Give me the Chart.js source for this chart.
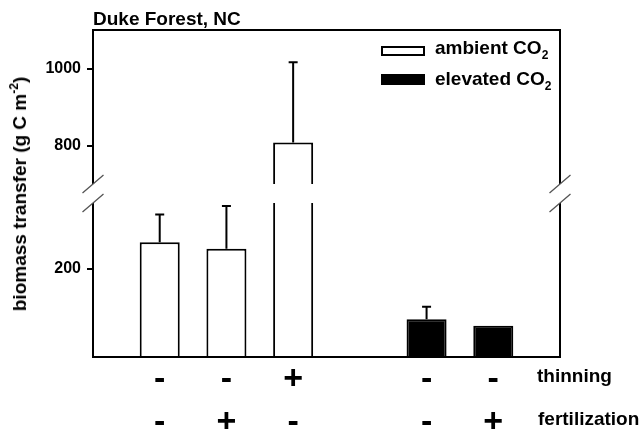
<!DOCTYPE html>
<html>
<head>
<meta charset="utf-8">
<script src="https://cdn.jsdelivr.net/npm/chart.js@4.4.0/dist/chart.umd.min.js"></script>
<style>
  body { margin: 0; background: #fff; }
  #wrap { position: relative; width: 640px; height: 435px; overflow: hidden;
          font-family: "Liberation Sans", Arial, sans-serif; font-weight: bold; color: #000; }
  canvas { position: absolute; left: 0; top: 0; }
  .t { position: absolute; white-space: nowrap; font-size: 19px; line-height: 19px; }
  .sub { font-size: 12px; position: relative; top: 5px; }
  .sup { font-size: 12px; position: relative; top: -8px; }
  #ytitle { left: 21px; top: 194px; transform: translate(-50%, -50%) rotate(-90deg); }
  .box { position: absolute; box-sizing: border-box; }
</style>
</head>
<body>
<div id="wrap">
  <canvas id="upper" width="640" height="435"></canvas>
  <canvas id="lower" width="640" height="435"></canvas>
  <div class="t" style="left:93px;top:9px">Duke Forest, NC</div>
  <div class="t" id="ytitle">biomass transfer (g C m<span class="sup">-2</span>)</div>
  <div class="box" style="left:381px;top:46px;width:44px;height:10px;border:2px solid #000;background:#fff"></div>
  <div class="t" style="left:435px;top:38px">ambient CO<span class="sub">2</span></div>
  <div class="box" style="left:381px;top:74px;width:44px;height:11px;background:#000"></div>
  <div class="t" style="left:435px;top:69px">elevated CO<span class="sub">2</span></div>
  <div class="t" style="left:537px;top:366px">thinning</div>
  <div class="t" style="left:538px;top:409px">fertilization</div>
</div>
<script>
// ---- data ----
const thinning      = ['', '-', '-', '+', '', '-', '-', ''];
const fertilization = ['', '-', '+', '-', '', '-', '+', ''];
const ambient       = [null, 261, 246, 808, null, null, null, null];
const ambientErr    = [null, 63, 97, 208, null, null, null, null];
const elevated      = [null, null, null, null, null, 86, 71, null];
const elevatedErr   = [null, null, null, null, null, 28, 0, null];
const lowerRange = [0, 350];
const upperRange = [700, 1100];
const lowerTicks = [200];
const upperTicks = [800, 1000];

const labels = thinning.map((t, i) => t ? [t, fertilization[i]] : '');
const FONT = "'Liberation Sans', Arial, sans-serif";

const errorBars = {
  id: 'errorBars',
  afterDatasetsDraw(chart) {
    const { ctx, chartArea: a } = chart;
    const y = chart.scales.y;
    ctx.save();
    ctx.beginPath();
    ctx.rect(a.left, a.top, a.right - a.left, a.bottom - a.top);
    ctx.clip();
    ctx.strokeStyle = '#000';
    ctx.lineWidth = 2;
    chart.data.datasets.forEach((ds, di) => {
      const meta = chart.getDatasetMeta(di);
      ds.errors.forEach((e, i) => {
        if (!e || ds.data[i] == null) return;
        const bar = meta.data[i];
        const base = y.getPixelForValue(ds.data[i]);
        const top = y.getPixelForValue(ds.data[i] + e);
        ctx.beginPath();
        ctx.moveTo(bar.x, base); ctx.lineTo(bar.x, top);
        ctx.moveTo(bar.x - 4.5, top); ctx.lineTo(bar.x + 4.5, top);
        ctx.stroke();
      });
    });
    ctx.restore();
  }
};

const frame = {
  id: 'frame',
  afterDraw(chart, args, opts) {
    const { ctx, chartArea: a } = chart;
    ctx.save();
    ctx.strokeStyle = '#000';
    ctx.lineWidth = 2;
    ctx.beginPath();
    ctx.moveTo(a.left, a.top); ctx.lineTo(a.left, a.bottom);
    ctx.moveTo(a.right, a.top); ctx.lineTo(a.right, a.bottom);
    if (opts.side === 'top') { ctx.moveTo(a.left - 1, a.top); ctx.lineTo(a.right + 1, a.top); }
    else { ctx.moveTo(a.left - 1, a.bottom); ctx.lineTo(a.right + 1, a.bottom); }
    ctx.stroke();
    // axis-break slashes
    const yb = opts.side === 'top' ? a.bottom : a.top;
    ctx.strokeStyle = '#555';
    ctx.lineWidth = 1.3;
    ctx.beginPath();
    [a.left, a.right].forEach(x => { ctx.moveTo(x - 10.5, yb + 9); ctx.lineTo(x + 10.5, yb - 9); });
    ctx.stroke();
    ctx.restore();
  }
};

function makeChart(id, range, ticks, isUpper) {
  return new Chart(document.getElementById(id), {
    type: 'bar',
    data: {
      labels: labels,
      datasets: [
        { label: 'ambient CO2', data: ambient, errors: ambientErr,
          backgroundColor: '#fff', borderColor: '#000', borderWidth: 2, grouped: false, clip: 0 },
        { label: 'elevated CO2', data: elevated, errors: elevatedErr,
          backgroundColor: '#000', borderColor: '#000', borderWidth: 2, grouped: false, clip: 0 }
      ]
    },
    options: {
      responsive: false,
      animation: false,
      events: [],
      categoryPercentage: 1,
      barPercentage: 0.6,
      layout: { padding: isUpper ? { top: 30, bottom: 251, left: 0, right: 80 }
                                 : { top: 203, bottom: 0, left: 0, right: 80 } },
      plugins: { legend: { display: false }, tooltip: { enabled: false },
                 frame: { side: isUpper ? 'top' : 'bottom' } },
      scales: {
        x: {
          type: 'category',
          display: !isUpper,
          offset: false,
          grid: { display: false },
          border: { display: false },
          ticks: { autoSkip: false, maxRotation: 0, color: '#000', padding: -7,
                   font: { family: FONT, size: 34, weight: 'bold', lineHeight: 1.27 } },
          afterFit: s => { if (!isUpper) s.height = 78; }
        },
        y: {
          min: range[0], max: range[1],
          afterBuildTicks: s => { s.ticks = ticks.map(v => ({ value: v })); },
          afterFit: s => { s.width = 93; },
          grid: { display: true, drawOnChartArea: false, drawTicks: true, tickLength: 6,
                  color: '#000', lineWidth: 2 },
          border: { display: false },
          ticks: { color: '#000', padding: 6, callback: v => String(v),
                   font: { family: FONT, size: 16, weight: 'bold' } }
        }
      }
    },
    plugins: [errorBars, frame]
  });
}

makeChart('upper', upperRange, upperTicks, true);
makeChart('lower', lowerRange, lowerTicks, false);
</script>
</body>
</html>
